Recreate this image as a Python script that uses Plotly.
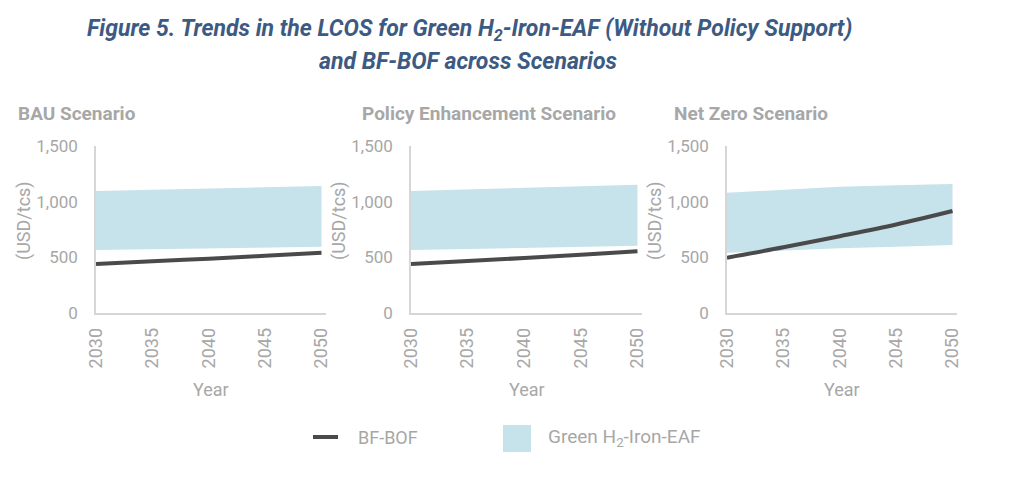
import plotly.graph_objects as go

W, H = 1024, 479
OFF = 8  # page body margin: the figure lands 8px right/down of the page origin

years = [2030, 2035, 2040, 2045, 2050]
scenarios = ["BAU Scenario", "Policy Enhancement Scenario", "Net Zero Scenario"]

# LCOS, USD/tcs
bau_green_low = [566, 573, 580, 588, 595]
bau_green_high = [1096, 1108, 1120, 1131, 1141]
bau_bfbof = [440, 464, 488, 514, 541]

policy_green_low = [566, 575, 585, 594, 604]
policy_green_high = [1096, 1110, 1125, 1140, 1152]
policy_bfbof = [440, 467, 494, 523, 554]

netzero_green_low = [541, 563, 581, 596, 610]
netzero_green_high = [1080, 1104, 1134, 1148, 1158]
netzero_bfbof = [497, 590, 690, 795, 916]

green_low = [bau_green_low, policy_green_low, netzero_green_low]
green_high = [bau_green_high, policy_green_high, netzero_green_high]
bfbof = [bau_bfbof, policy_bfbof, netzero_bfbof]

y_ticks = [0, 500, 1000, 1500]
y_ticktext = ["0", "500", "1,000", "1,500"]

FONT = "Roboto"
GREY = "#a7a7a7"
LINE = "#4a4a4a"
BAND = "#c6e2ea"
TITLE_BLUE = "#3d5b82"

# panel positions in page pixels (left, right), plot area top/bottom
panels_px = [(96, 326), (411, 642), (727, 957)]
title_px = [16, 360, 672]
TOP, BOT = 146, 313


def px(x):
    return (x - OFF) / W


def py(y):
    return 1 - (y - OFF) / H


fig = go.Figure()

for i in range(3):
    sfx = "" if i == 0 else str(i + 1)
    fig.add_trace(go.Scatter(
        x=years, y=green_low[i], mode="lines", line=dict(width=0, color=BAND),
        xaxis="x" + sfx, yaxis="y" + sfx, showlegend=False, hoverinfo="skip"))
    fig.add_trace(go.Scatter(
        x=years, y=green_high[i], mode="lines", line=dict(width=0, color=BAND),
        fill="tonexty", fillcolor=BAND, name="Green H<sub>2</sub>-Iron-EAF",
        xaxis="x" + sfx, yaxis="y" + sfx, showlegend=False))
    fig.add_trace(go.Scatter(
        x=years, y=bfbof[i], mode="lines", line=dict(width=4, color=LINE, shape="spline"),
        name="BF-BOF", xaxis="x" + sfx, yaxis="y" + sfx, showlegend=False))

    l, r = panels_px[i]
    fig.layout["xaxis" + sfx] = dict(
        domain=[px(l), px(r)], anchor="y" + sfx, range=[2030, 2050.4],
        tickvals=years, tickangle=-90, showgrid=False, zeroline=False,
        showline=True, linecolor="#d6d6d6", linewidth=1.5,
        ticks="", ticklabelstandoff=6, automargin=False,
        tickfont=dict(family=FONT, size=18, color=GREY),
        fixedrange=True)
    fig.layout["yaxis" + sfx] = dict(
        domain=[py(BOT), py(TOP)], anchor="x" + sfx, range=[0, 1500],
        tickvals=y_ticks, ticktext=y_ticktext, showgrid=False, zeroline=False,
        showline=True, linecolor="#d6d6d6", linewidth=1.5,
        ticks="", ticklabelstandoff=13, automargin=False,
        tickfont=dict(family=FONT, size=17, color=GREY),
        fixedrange=True)

    # axis titles
    fig.add_annotation(
        text="(USD/tcs)", xref="paper", yref="paper", x=px(l - 72), y=py(221),
        xanchor="center", yanchor="middle", textangle=-90, showarrow=False,
        font=dict(family=FONT, size=18, color=GREY))
    fig.add_annotation(
        text="Year", xref="paper", yref="paper", x=px((l + r) / 2), y=py(389),
        xanchor="center", yanchor="middle", showarrow=False,
        font=dict(family=FONT, size=18, color=GREY))

    fig.add_annotation(
        text="<b>" + scenarios[i] + "</b>", xref="paper", yref="paper",
        x=px(title_px[i]), y=py(113), xanchor="left", yanchor="middle",
        showarrow=False, font=dict(family=FONT, size=19, color=GREY))

# main title
fig.add_annotation(
    text="<b><i>Figure 5. Trends in the LCOS for Green H<sub>2</sub>-Iron-EAF (Without Policy Support)</i></b>",
    xref="paper", yref="paper", x=px(469), y=py(30), xanchor="center", yanchor="middle",
    showarrow=False, font=dict(family=FONT, size=23, color=TITLE_BLUE))
fig.add_annotation(
    text="<b><i>and BF-BOF across Scenarios</i></b>",
    xref="paper", yref="paper", x=px(468), y=py(62), xanchor="center", yanchor="middle",
    showarrow=False, font=dict(family=FONT, size=23, color=TITLE_BLUE))

# legend
fig.add_shape(type="line", xref="paper", yref="paper",
              x0=px(313), x1=px(338), y0=py(437), y1=py(437),
              line=dict(color=LINE, width=4))
fig.add_annotation(text="BF-BOF", xref="paper", yref="paper", x=px(356), y=py(437),
                   xanchor="left", yanchor="middle", showarrow=False,
                   font=dict(family=FONT, size=18, color=GREY))
fig.add_shape(type="rect", xref="paper", yref="paper",
              x0=px(503), x1=px(531), y0=py(452), y1=py(425),
              fillcolor=BAND, line=dict(width=0))
fig.add_annotation(text="Green H<sub>2</sub>-Iron-EAF", xref="paper", yref="paper",
                   x=px(546), y=py(437), xanchor="left", yanchor="middle", showarrow=False,
                   font=dict(family=FONT, size=19, color=GREY))

fig.update_layout(
    width=W, height=H,
    margin=dict(l=0, r=0, t=0, b=0, pad=0, autoexpand=False),
    paper_bgcolor="white", plot_bgcolor="white",
    showlegend=False,
)

fig.write_html("out.html")
